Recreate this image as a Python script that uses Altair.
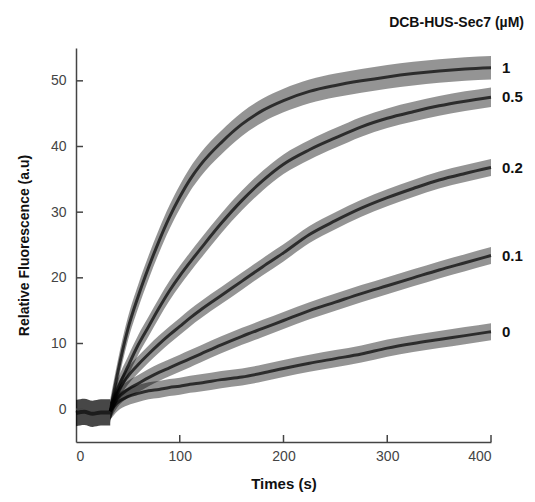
import altair as alt
import pandas as pd

# ---- data ----
series_names = ["1", "0.5", "0.2", "0.1", "0"]

# baseline before injection (all traces overlap here)
base_times = [0, 8, 16, 24, 33]
base_values = [-0.6, -0.4, -0.7, -0.5, -0.5]
base_spread = 2.0

times = [33, 40, 50, 60, 70, 80, 90, 100, 110, 120, 140, 160, 180, 200,
         225, 250, 275, 300, 325, 350, 375, 400]
v_1 = [-0.3, 5.4, 12.2, 17.2, 21.6, 25.6, 29.2, 32.3, 35.0, 37.2, 40.6, 43.4,
       45.5, 47.0, 48.4, 49.3, 50.0, 50.6, 51.1, 51.5, 51.8, 52.0]
v_05 = [-0.3, 3.0, 6.5, 9.8, 12.6, 15.4, 18.0, 20.3, 22.4, 24.4, 28.3, 31.8,
        34.8, 37.3, 39.5, 41.3, 43.0, 44.3, 45.3, 46.2, 46.9, 47.5]
v_02 = [-0.3, 2.5, 5.0, 6.8, 8.4, 9.9, 11.3, 12.6, 13.9, 15.1, 17.3, 19.5,
        21.7, 23.8, 26.6, 28.7, 30.6, 32.2, 33.6, 34.9, 35.9, 36.8]
v_01 = [-0.3, 1.6, 3.0, 3.9, 4.8, 5.6, 6.3, 7.0, 7.7, 8.4, 9.8, 11.1,
        12.3, 13.5, 15.0, 16.3, 17.6, 18.8, 20.0, 21.2, 22.3, 23.4]
v_0 = [-0.3, 1.0, 1.9, 2.4, 2.8, 3.0, 3.3, 3.5, 3.8, 4.0, 4.5, 4.9,
       5.5, 6.2, 7.0, 7.7, 8.4, 9.3, 10.0, 10.6, 11.2, 11.8]
spreads = [1.8, 1.5, 1.3, 1.3, 1.3]  # half-width of the noisy scatter band

x_ticks = [100, 200, 300, 400]
y_ticks = [0, 10, 20, 30, 40, 50]

# ---- tables ----
rows = []
for name, vals, sp in zip(series_names, [v_1, v_05, v_02, v_01, v_0], spreads):
    for t, v in zip(times, vals):
        rows.append({"t": t, "v": v, "lo": v - sp, "hi": v + sp, "s": name})
df = pd.DataFrame(rows)
base_df = pd.DataFrame({"t": base_times, "v": base_values,
                        "lo": [v - base_spread for v in base_values],
                        "hi": [v + base_spread for v in base_values]})

ends = pd.DataFrame({"s": series_names,
                     "t": [times[-1]] * 5,
                     "v": [v_1[-1], v_05[-1], v_02[-1], v_01[-1], v_0[-1]]})

FONT = "Liberation Sans"
xs = alt.Scale(domain=[0, 400], nice=False, zero=False)
ys = alt.Scale(domain=[-5, 55], nice=False, zero=False)

x_axis = alt.Axis(values=[0, 100, 200, 300, 400], ticks=False, grid=False,
                  labelFontSize=14, labelColor="#444", labelFont=FONT, labelPadding=7,
                  domainColor="#444", domainWidth=1.5,
                  titleFont=FONT, titleFontSize=15,
                  titleFontWeight="bold", titleColor="#111", titlePadding=13)
y_axis = alt.Axis(values=y_ticks, ticks=False, grid=False,
                  labelFontSize=14, labelColor="#444", labelFont=FONT, labelPadding=10,
                  domainColor="#444", domainWidth=1.5,
                  titleFont=FONT, titleFontSize=14,
                  titleFontWeight="bold", titleColor="#111", titlePadding=19)
XT = "Times (s)"
YT = "Relative Fluorescence (a.u)"


def X(field):
    return alt.X(field, scale=xs, axis=x_axis, title=XT)


def Y(field):
    return alt.Y(field, scale=ys, axis=y_axis, title=YT)


band = alt.Chart(df).mark_area(color="black", opacity=0.42, interpolate="monotone").encode(
    x=X("t:Q"), y=Y("lo:Q"), y2="hi:Q", detail="s:N",
)
core = alt.Chart(df).mark_line(color="black", strokeWidth=3, opacity=0.7,
                               interpolate="monotone").encode(
    x=X("t:Q"), y=Y("v:Q"), detail="s:N",
)
base_band = alt.Chart(base_df).mark_area(color="black", opacity=0.72,
                                         interpolate="monotone").encode(
    x=X("t:Q"), y=Y("lo:Q"), y2="hi:Q",
)
base_core = alt.Chart(base_df).mark_line(color="black", strokeWidth=4, opacity=0.6,
                                         interpolate="monotone").encode(
    x=X("t:Q"), y=Y("v:Q"),
)

labels = alt.Chart(ends).mark_text(align="left", baseline="middle", dx=11,
                                   font=FONT, fontSize=15, fontWeight="bold",
                                   color="#111").encode(
    x=X("t:Q"), y=Y("v:Q"), text="s:N",
)

xtick_rules = alt.Chart(pd.DataFrame({"t": x_ticks})).mark_rule(
    color="#444", strokeWidth=1.5).encode(
    x=X("t:Q"), y=alt.value(394), y2=alt.value(387),
)
ytick_rules = alt.Chart(pd.DataFrame({"v": y_ticks})).mark_rule(
    color="#444", strokeWidth=1.5).encode(
    y=Y("v:Q"), x=alt.value(0), x2=alt.value(7),
)

chart = alt.layer(band, core, base_band, base_core, labels,
                  xtick_rules, ytick_rules).properties(
    width=415, height=394,
    autosize=alt.AutoSizeParams(type="none"),
    padding={"left": 68, "top": 40, "right": 36, "bottom": 52},
    title=alt.TitleParams(text="DCB-HUS-Sec7 (µM)", anchor="end", frame="group",
                          dx=33, offset=18, font=FONT, fontSize=14,
                          fontWeight="bold", color="#111"),
).configure_view(stroke=None)

chart.save("out.html", embed_options={"renderer": "svg", "actions": False})
